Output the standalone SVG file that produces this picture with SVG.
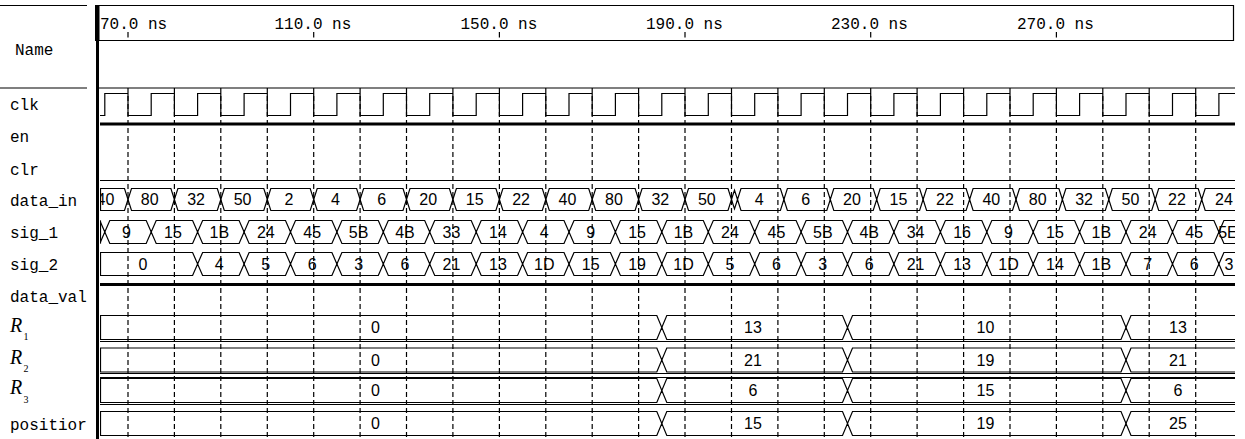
<svg xmlns="http://www.w3.org/2000/svg" xmlns:xlink="http://www.w3.org/1999/xlink" width="1245" height="439" viewBox="0 0 1245 439">
<style>
.ln{fill:none;stroke:#000;stroke-width:1.2}
.thk{fill:none;stroke:#000;stroke-width:3}
.dash{fill:none;stroke:#000;stroke-width:1.2;stroke-dasharray:5 3}
.lab{font-family:"Liberation Mono","DejaVu Sans Mono",monospace;font-size:16px;fill:#000}
.ts{font-family:"Liberation Mono","DejaVu Sans Mono",monospace;font-size:16px;fill:#000}
.v{font-family:"Liberation Sans",Arial,sans-serif;font-size:16px;fill:#000;text-anchor:middle}
.r{font-family:"Liberation Serif","Times New Roman",serif;font-style:italic;font-size:20px;fill:#000}
.sub{font-family:"Liberation Serif","Times New Roman",serif;font-size:10px;fill:#000}
</style>
<defs>
<clipPath id="wave"><rect x="100" y="80" width="1135" height="359"/></clipPath>
<path id="sig1top" d="M99.8 0 L104.8 11.5 L109.8 0 H146.2 L151.2 11.5 L156.2 0 H192.6 L197.6 11.5 L202.6 0 H239.1 L244.1 11.5 L249.1 0 H285.5 L290.5 11.5 L295.5 0 H331.9 L336.9 11.5 L341.9 0 H378.3 L383.3 11.5 L388.3 0 H424.7 L429.7 11.5 L434.7 0 H471.2 L476.2 11.5 L481.2 0 H517.6 L522.6 11.5 L527.6 0 H564 L569 11.5 L574 0 H610.4 L615.4 11.5 L620.4 0 H656.8 L661.8 11.5 L666.8 0 H703.3 L708.3 11.5 L713.3 0 H749.7 L754.7 11.5 L759.7 0 H796.1 L801.1 11.5 L806.1 0 H842.5 L847.5 11.5 L852.5 0 H888.9 L893.9 11.5 L898.9 0 H935.4 L940.4 11.5 L945.4 0 H981.8 L986.8 11.5 L991.8 0 H1028.2 L1033.2 11.5 L1038.2 0 H1074.6 L1079.6 11.5 L1084.6 0 H1121 L1126 11.5 L1131 0 H1167.5 L1172.5 11.5 L1177.5 0 H1213.9 L1218.9 11.5 L1223.9 0 H1240"/>
<path id="sig2top" d="M100 0 H192.6 L197.6 11.5 L202.6 0 H239.1 L244.1 11.5 L249.1 0 H285.5 L290.5 11.5 L295.5 0 H331.9 L336.9 11.5 L341.9 0 H378.3 L383.3 11.5 L388.3 0 H424.7 L429.7 11.5 L434.7 0 H471.2 L476.2 11.5 L481.2 0 H517.6 L522.6 11.5 L527.6 0 H564 L569 11.5 L574 0 H610.4 L615.4 11.5 L620.4 0 H656.8 L661.8 11.5 L666.8 0 H703.3 L708.3 11.5 L713.3 0 H749.7 L754.7 11.5 L759.7 0 H796.1 L801.1 11.5 L806.1 0 H842.5 L847.5 11.5 L852.5 0 H888.9 L893.9 11.5 L898.9 0 H935.4 L940.4 11.5 L945.4 0 H981.8 L986.8 11.5 L991.8 0 H1028.2 L1033.2 11.5 L1038.2 0 H1074.6 L1079.6 11.5 L1084.6 0 H1121 L1126 11.5 L1131 0 H1167.5 L1172.5 11.5 L1177.5 0 H1213.9 L1218.9 11.5 L1223.9 0 H1240"/>
<path id="dintop" d="M100 0 H124.5 L128 11 L131.5 0 H170.9 L174.4 11 L177.9 0 H217.3 L220.8 11 L224.3 0 H263.8 L267.3 11 L270.8 0 H310.2 L313.7 11 L317.2 0 H356.6 L360.1 11 L363.6 0 H403 L406.5 11 L410 0 H449.4 L452.9 11 L456.4 0 H495.9 L499.4 11 L502.9 0 H542.3 L545.8 11 L549.3 0 H588.7 L592.2 11 L595.7 0 H635.1 L638.6 11 L642.1 0 H681.5 L685 11 L688.5 0 H728 L731.5 11 L734.5 1.6 L737.5 11 L741 0 H780.4 L783.9 11 L787.4 0 H826.8 L830.3 11 L833.8 0 H873.2 L876.7 11 L880.2 0 H919.6 L923.1 11 L926.6 0 H966.1 L969.6 11 L973.1 0 H1012.5 L1016 11 L1019.5 0 H1058.9 L1062.4 11 L1065.9 0 H1105.3 L1108.8 11 L1112.3 0 H1151.7 L1155.2 11 L1158.7 0 H1198.2 L1201.7 11 L1205.2 0 H1240"/>
<path id="rtop" d="M100 0 H656.8 L661.8 12 L666.8 0 H842.5 L847.5 12 L852.5 0 H1121 L1126 12 L1131 0 H1240"/>
<g id="rbus" class="ln">
<use xlink:href="#rtop"/>
<use xlink:href="#rtop" transform="matrix(1 0 0 -1 0 24)"/>
<path d="M100.5 0 V24"/>
</g>
</defs>
<rect width="1245" height="439" fill="#fff"/>

<g id="frame">
<path class="ln" d="M0 5.5 H87 M0 88 H87 M98 5.5 H1233.5 V40.5 H98 M98 88 H1235"/>
<rect x="95" y="5" width="4.5" height="36" fill="#000"/>
<rect x="96" y="5" width="3" height="434" fill="#000"/>
</g>

<g id="timeline">
<path class="ln" d="M128 32 V37.5 M313.7 32 V37.5 M499.4 32 V37.5 M685 32 V37.5 M870.7 32 V37.5 M1056.4 32 V37.5" stroke-width="1.5"/>
<text class="ts" x="100" y="28.5">70.0 ns</text>
<text class="ts" x="274.5" y="28.5">110.0 ns</text>
<text class="ts" x="460.5" y="28.5">150.0 ns</text>
<text class="ts" x="646" y="28.5">190.0 ns</text>
<text class="ts" x="831" y="28.5">230.0 ns</text>
<text class="ts" x="1017" y="28.5">270.0 ns</text>
</g>

<g id="labels">
<text class="lab" x="15" y="55">Name</text>
<text class="lab" x="10" y="110">clk</text>
<text class="lab" x="10" y="142">en</text>
<text class="lab" x="10" y="175">clr</text>
<text class="lab" x="10" y="206">data_in</text>
<text class="lab" x="10" y="238">sig_1</text>
<text class="lab" x="10" y="270">sig_2</text>
<text class="lab" x="10" y="302">data_val</text>
<text class="r" x="10" y="332">R</text><text class="sub" x="23.5" y="340">1</text>
<text class="r" x="10" y="364">R</text><text class="sub" x="23.5" y="372">2</text>
<text class="r" x="10" y="394">R</text><text class="sub" x="23.5" y="403">3</text>
<text class="lab" x="10" y="430">positior</text>
</g>

<g id="gridlines">
<path class="dash" d="M128 88 V439 M174.4 88 V439 M220.8 88 V439 M267.3 88 V439 M313.7 88 V439 M360.1 88 V439 M406.5 88 V439 M452.9 88 V439 M499.4 88 V439 M545.8 88 V439 M592.2 88 V439 M638.6 88 V439 M685 88 V439 M731.5 88 V439 M777.9 88 V439 M824.3 88 V439 M870.7 88 V439 M917.1 88 V439 M963.6 88 V439 M1010 88 V439 M1056.4 88 V439 M1102.8 88 V439 M1149.2 88 V439 M1195.7 88 V439"/>
</g>

<g clip-path="url(#wave)">
<g id="clk">
<path class="ln" d="M100 115.5 H104.8 V93.5 H128 V115.5 H151.2 V93.5 H174.4 V115.5 H197.6 V93.5 H220.8 V115.5 H244.1 V93.5 H267.3 V115.5 H290.5 V93.5 H313.7 V115.5 H336.9 V93.5 H360.1 V115.5 H383.3 V93.5 H406.5 V115.5 H429.7 V93.5 H452.9 V115.5 H476.2 V93.5 H499.4 V115.5 H522.6 V93.5 H545.8 V115.5 H569 V93.5 H592.2 V115.5 H615.4 V93.5 H638.6 V115.5 H661.8 V93.5 H685 V115.5 H708.3 V93.5 H731.5 V115.5 H754.7 V93.5 H777.9 V115.5 H801.1 V93.5 H824.3 V115.5 H847.5 V93.5 H870.7 V115.5 H893.9 V93.5 H917.1 V115.5 H940.4 V93.5 H963.6 V115.5 H986.8 V93.5 H1010 V115.5 H1033.2 V93.5 H1056.4 V115.5 H1079.6 V93.5 H1102.8 V115.5 H1126 V93.5 H1149.2 V115.5 H1172.5 V93.5 H1195.7 V115.5 H1218.9 V93.5 H1240"/>
</g>
<g id="en"><path class="thk" d="M98 124 H1240"/></g>
<g id="clr"><path class="ln" d="M100 180.5 H1240"/></g>
<g id="data_in">
<g class="ln" transform="translate(0,188.5)">
<use xlink:href="#dintop"/>
<use xlink:href="#dintop" transform="matrix(1 0 0 -1 0 22)"/>
<path d="M100.5 0 V22"/>
</g>
<g class="v">
<text x="105.5" y="205">40</text><text x="149.7" y="205">80</text><text x="196.1" y="205">32</text><text x="242.6" y="205">50</text><text x="289" y="205">2</text><text x="335.4" y="205">4</text><text x="381.8" y="205">6</text><text x="428.2" y="205">20</text><text x="474.7" y="205">15</text><text x="521.1" y="205">22</text><text x="567.5" y="205">40</text><text x="613.9" y="205">80</text><text x="660.3" y="205">32</text><text x="706.8" y="205">50</text><text x="759.2" y="205">4</text><text x="805.6" y="205">6</text><text x="852" y="205">20</text><text x="898.4" y="205">15</text><text x="944.9" y="205">22</text><text x="991.3" y="205">40</text><text x="1037.7" y="205">80</text><text x="1084.1" y="205">32</text><text x="1130.5" y="205">50</text><text x="1177" y="205">22</text><text x="1224" y="205">24</text>
</g>
</g>
<g id="sig_1">
<g class="ln" transform="translate(0,220.5)">
<use xlink:href="#sig1top"/>
<use xlink:href="#sig1top" transform="matrix(1 0 0 -1 0 23)"/>
<path d="M100.5 0 V23"/>
</g>
<g class="v">
<text x="126.5" y="237.5">9</text><text x="172.9" y="237.5">15</text><text x="219.3" y="237.5">1B</text><text x="265.8" y="237.5">24</text><text x="312.2" y="237.5">45</text><text x="358.6" y="237.5">5B</text><text x="405" y="237.5">4B</text><text x="451.4" y="237.5">33</text><text x="497.9" y="237.5">14</text><text x="544.3" y="237.5">4</text><text x="590.7" y="237.5">9</text><text x="637.1" y="237.5">15</text><text x="683.5" y="237.5">1B</text><text x="730" y="237.5">24</text><text x="776.4" y="237.5">45</text><text x="822.8" y="237.5">5B</text><text x="869.2" y="237.5">4B</text><text x="915.6" y="237.5">34</text><text x="962.1" y="237.5">16</text><text x="1008.5" y="237.5">9</text><text x="1054.9" y="237.5">15</text><text x="1101.3" y="237.5">1B</text><text x="1147.7" y="237.5">24</text><text x="1194.2" y="237.5">45</text><text x="1228" y="237.5">5E</text>
</g>
</g>
<g id="sig_2">
<g class="ln" transform="translate(0,252.5)">
<use xlink:href="#sig2top"/>
<use xlink:href="#sig2top" transform="matrix(1 0 0 -1 0 23)"/>
<path d="M100.5 0 V23"/>
</g>
<g class="v">
<text x="143" y="269.5">0</text><text x="219.3" y="269.5">4</text><text x="265.8" y="269.5">5</text><text x="312.2" y="269.5">6</text><text x="358.6" y="269.5">3</text><text x="405" y="269.5">6</text><text x="451.4" y="269.5">21</text><text x="497.9" y="269.5">13</text><text x="544.3" y="269.5">1D</text><text x="590.7" y="269.5">15</text><text x="637.1" y="269.5">19</text><text x="683.5" y="269.5">1D</text><text x="730" y="269.5">5</text><text x="776.4" y="269.5">6</text><text x="822.8" y="269.5">3</text><text x="869.2" y="269.5">6</text><text x="915.6" y="269.5">21</text><text x="962.1" y="269.5">13</text><text x="1008.5" y="269.5">1D</text><text x="1054.9" y="269.5">14</text><text x="1101.3" y="269.5">1B</text><text x="1147.7" y="269.5">7</text><text x="1194.2" y="269.5">6</text><text x="1229" y="269.5">3</text>
</g>
</g>
<g id="data_val"><path class="thk" d="M98 284.5 H1240"/></g>
<g id="R1">
<use xlink:href="#rbus" transform="translate(0,315.5)"/>
<path class="ln" d="M100 341.5 H1240"/>
<g class="v"><text x="375.5" y="333">0</text><text x="753" y="333">13</text><text x="985.5" y="333">10</text><text x="1178" y="333">13</text></g>
</g>
<g id="R2">
<use xlink:href="#rbus" transform="translate(0,348)"/>
<path class="ln" d="M100 373.5 H1240"/>
<g class="v"><text x="375.5" y="366">0</text><text x="753" y="366">21</text><text x="985.5" y="366">19</text><text x="1178" y="366">21</text></g>
</g>
<g id="R3">
<use xlink:href="#rbus" transform="translate(0,378.5)"/>
<path class="ln" d="M100 377.5 H1240 M100 404.5 H1240"/>
<g class="v"><text x="375.5" y="396">0</text><text x="753" y="396">6</text><text x="985.5" y="396">15</text><text x="1178" y="396">6</text></g>
</g>
<g id="position">
<use xlink:href="#rbus" transform="translate(0,411.5)"/>
<g class="v"><text x="375.5" y="429">0</text><text x="753" y="429">15</text><text x="985.5" y="429">19</text><text x="1178" y="429">25</text></g>
</g>
</g>
</svg>
